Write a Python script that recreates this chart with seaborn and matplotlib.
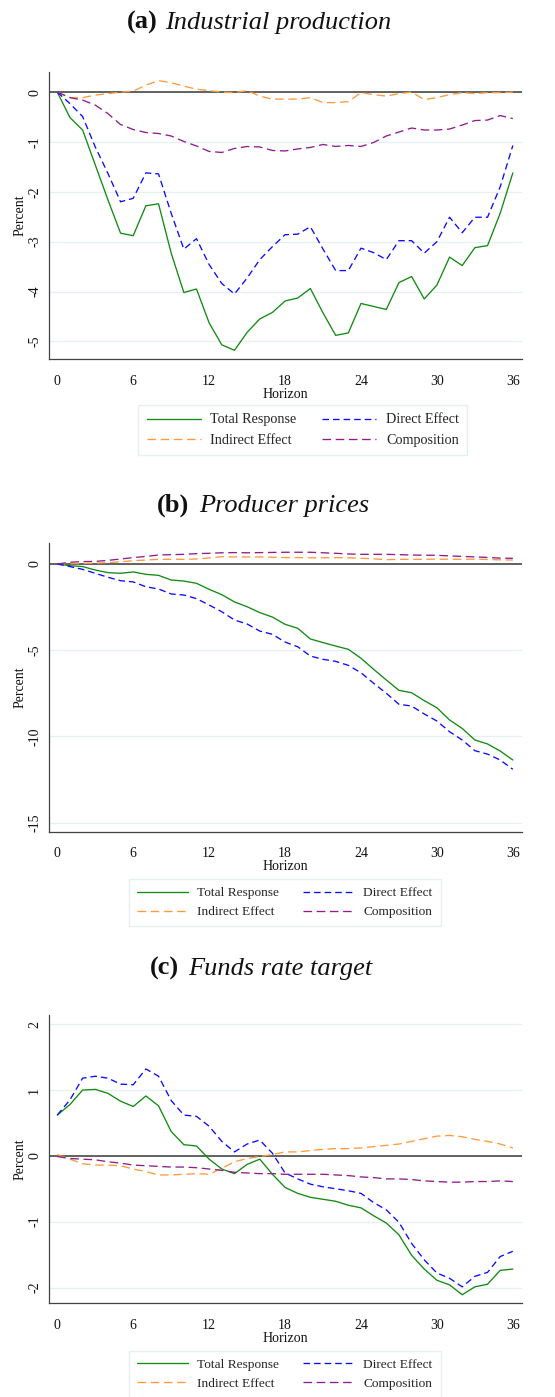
import matplotlib
matplotlib.use("Agg")
import matplotlib.pyplot as plt
import seaborn as sns
import numpy as np
import pandas as pd

sns.set_theme(style="white")
plt.rcParams["font.family"] = ["Liberation Serif", "DejaVu Serif"]
plt.rcParams["axes.unicode_minus"] = False

horizon = list(range(37))

# (a) Industrial production
ip_total = [0, -0.51, -0.76, -1.46, -2.16, -2.83, -2.88, -2.28, -2.24, -3.23, -4.02,
            -3.95, -4.63, -5.07, -5.18, -4.82, -4.55, -4.42, -4.19, -4.13, -3.94,
            -4.43, -4.88, -4.83, -4.24, -4.30, -4.36, -3.82, -3.70, -4.15, -3.87,
            -3.31, -3.48, -3.12, -3.08, -2.43, -1.62]
ip_direct = [0, -0.23, -0.49, -1.10, -1.63, -2.20, -2.13, -1.62, -1.64, -2.43, -3.15,
             -2.94, -3.46, -3.84, -4.05, -3.73, -3.36, -3.10, -2.86, -2.85, -2.70,
             -3.15, -3.58, -3.58, -3.13, -3.22, -3.36, -2.98, -2.98, -3.23, -3.00,
             -2.51, -2.82, -2.51, -2.51, -1.90, -1.07]
ip_indirect = [0, -0.11, -0.11, -0.06, -0.03, 0.00, 0.02, 0.14, 0.23, 0.19, 0.12,
               0.06, 0.03, 0.00, -0.01, 0.03, -0.08, -0.14, -0.14, -0.14, -0.11,
               -0.21, -0.21, -0.19, -0.01, -0.05, -0.08, -0.03, 0.00, -0.15, -0.11,
               -0.05, -0.01, -0.03, -0.01, -0.01, 0.00]
ip_comp = [0, -0.11, -0.16, -0.26, -0.43, -0.65, -0.75, -0.81, -0.83, -0.88, -0.99,
           -1.08, -1.19, -1.21, -1.13, -1.09, -1.10, -1.17, -1.18, -1.14, -1.11,
           -1.05, -1.09, -1.07, -1.09, -1.01, -0.88, -0.80, -0.72, -0.76, -0.76,
           -0.74, -0.66, -0.57, -0.56, -0.47, -0.53]

# (b) Producer prices
pp_total = [0, -0.10, -0.15, -0.35, -0.50, -0.54, -0.46, -0.60, -0.66, -0.93, -0.99,
            -1.12, -1.47, -1.78, -2.20, -2.48, -2.82, -3.08, -3.50, -3.73, -4.35,
            -4.56, -4.76, -4.95, -5.47, -6.11, -6.73, -7.33, -7.47, -7.93, -8.34,
            -9.05, -9.54, -10.21, -10.44, -10.85, -11.37]
pp_direct = [0, -0.15, -0.31, -0.54, -0.77, -0.97, -1.04, -1.32, -1.45, -1.74, -1.80,
             -2.01, -2.38, -2.77, -3.25, -3.48, -3.89, -4.08, -4.53, -4.80, -5.34,
             -5.53, -5.65, -5.88, -6.31, -6.92, -7.50, -8.14, -8.24, -8.70, -9.11,
             -9.73, -10.21, -10.83, -11.03, -11.37, -11.91]
pp_indirect = [0, 0.02, 0.03, 0.05, 0.08, 0.13, 0.19, 0.23, 0.27, 0.27, 0.27,
               0.29, 0.35, 0.42, 0.41, 0.41, 0.41, 0.39, 0.37, 0.37, 0.36,
               0.36, 0.37, 0.36, 0.33, 0.30, 0.25, 0.27, 0.27, 0.27, 0.28,
               0.28, 0.27, 0.28, 0.26, 0.24, 0.23]
pp_comp = [0, 0.10, 0.14, 0.15, 0.21, 0.29, 0.37, 0.44, 0.52, 0.54, 0.56,
           0.60, 0.62, 0.65, 0.66, 0.65, 0.66, 0.67, 0.68, 0.68, 0.68,
           0.65, 0.62, 0.58, 0.56, 0.56, 0.56, 0.54, 0.52, 0.51, 0.50,
           0.47, 0.44, 0.41, 0.38, 0.34, 0.33]

# (c) Funds rate target
ff_total = [0.62, 0.78, 1.00, 1.01, 0.95, 0.83, 0.75, 0.91, 0.76, 0.37, 0.17,
            0.15, -0.05, -0.20, -0.27, -0.13, -0.05, -0.28, -0.48, -0.57, -0.63,
            -0.66, -0.69, -0.75, -0.79, -0.91, -1.02, -1.20, -1.51, -1.72, -1.89,
            -1.96, -2.11, -1.99, -1.95, -1.74, -1.72]
ff_direct = [0.62, 0.85, 1.18, 1.21, 1.18, 1.09, 1.08, 1.32, 1.21, 0.84, 0.62,
             0.60, 0.45, 0.22, 0.06, 0.18, 0.24, 0.04, -0.26, -0.35, -0.43,
             -0.47, -0.50, -0.53, -0.57, -0.71, -0.82, -1.01, -1.33, -1.58, -1.78,
             -1.86, -1.99, -1.83, -1.77, -1.53, -1.45]
ff_indirect = [0.02, -0.05, -0.12, -0.14, -0.14, -0.15, -0.20, -0.24, -0.29, -0.29, -0.28,
               -0.27, -0.28, -0.19, -0.09, -0.04, -0.01, 0.02, 0.06, 0.06, 0.08,
               0.10, 0.11, 0.11, 0.12, 0.14, 0.16, 0.18, 0.22, 0.26, 0.30,
               0.31, 0.29, 0.25, 0.22, 0.18, 0.12]
ff_comp = [-0.01, -0.04, -0.05, -0.06, -0.09, -0.11, -0.14, -0.15, -0.16, -0.17, -0.17,
           -0.18, -0.20, -0.22, -0.25, -0.26, -0.27, -0.27, -0.28, -0.28, -0.28,
           -0.28, -0.29, -0.30, -0.32, -0.33, -0.35, -0.35, -0.36, -0.38, -0.39,
           -0.40, -0.40, -0.39, -0.39, -0.38, -0.39]

series_labels = ["Total Response", "Indirect Effect", "Direct Effect", "Composition"]
x_ticks = [0, 6, 12, 18, 24, 30, 36]

panels = [
    dict(tag="(a)", name="Industrial production",
         data=[ip_total, ip_indirect, ip_direct, ip_comp],
         yticks=[0, -1, -2, -3, -4, -5], ylim=(-5.36, 0.41)),
    dict(tag="(b)", name="Producer prices",
         data=[pp_total, pp_indirect, pp_direct, pp_comp],
         yticks=[0, -5, -10, -15], ylim=(-15.53, 1.2)),
    dict(tag="(c)", name="Funds rate target",
         data=[ff_total, ff_indirect, ff_direct, ff_comp],
         yticks=[2, 1, 0, -1, -2], ylim=(-2.24, 2.14)),
]

# line styling per series
styles = [
    dict(color="#138a13", linestyle="-"),
    dict(color="#ff9a3c", linestyle=(0, (6.5, 3.5))),
    dict(color="#0a0aff", linestyle=(0, (5.0, 3.0))),
    dict(color="#8e1d8e", linestyle=(0, (6.5, 3.5))),
]

W, H = 555, 1397
fig = plt.figure(figsize=(W / 100, H / 100), dpi=100)
fig.patch.set_facecolor("white")

# pixel layout of each panel
layout = [
    dict(top=71.7, bottom=359.3, title_y=29, tag_x=126.7, name_x=165.5,
         leg_x=302.8, leg_y=430, leg_fs=10.2),
    dict(top=543.3, bottom=831.7, title_y=512, tag_x=156.7, name_x=199.5,
         leg_x=285, leg_y=902.7, leg_fs=9.6),
    dict(top=1015, bottom=1303.3, title_y=975, tag_x=150, name_x=188.3,
         leg_x=285, leg_y=1374.5, leg_fs=9.6),
]
left_px, right_px = 48.7, 521.7

for p, lay in zip(panels, layout):
    ax = fig.add_axes([left_px / W, 1 - lay["bottom"] / H,
                       (right_px - left_px) / W, (lay["bottom"] - lay["top"]) / H])
    ax.set_facecolor("white")
    for yt in p["yticks"]:
        ax.axhline(yt, color="#e7eff1", lw=0.9, zorder=0)
    ax.axhline(0, color="#3a3a3a", lw=1.1, zorder=1)

    for vals, lab, st in zip(p["data"], series_labels, styles):
        df = pd.DataFrame({"Horizon": horizon, "value": vals})
        sns.lineplot(data=df, x="Horizon", y="value", ax=ax, color=st["color"],
                     linestyle=st["linestyle"], lw=0.95, zorder=3, label=lab)

    ax.set_xlim(-0.68, 36.7)
    ax.set_ylim(*p["ylim"])
    ax.set_xticks(x_ticks)
    ax.set_yticks(p["yticks"])
    ax.set_yticklabels([str(v) for v in p["yticks"]], rotation=90, va="center")
    ax.tick_params(axis="both", direction="out", length=4, width=0.9,
                   color="#444444", labelsize=10, labelcolor="#111111")
    ax.tick_params(axis="y", pad=1.5)
    ax.tick_params(axis="x", pad=7)
    ax.set_xlabel("Horizon", fontsize=10, labelpad=0, color="#111111")
    ax.set_ylabel("Percent", fontsize=10, labelpad=1, color="#111111")
    for side in ["top", "right"]:
        ax.spines[side].set_visible(False)
    for side in ["left", "bottom"]:
        ax.spines[side].set_color("#444444")
        ax.spines[side].set_linewidth(0.9)

    h, l = ax.get_legend_handles_labels()
    ax.get_legend().remove()
    leg = fig.legend(h, l, loc="center", ncol=2,
                     bbox_to_anchor=(lay["leg_x"] / W, 1 - lay["leg_y"] / H),
                     fontsize=lay["leg_fs"], frameon=True, fancybox=False,
                     edgecolor="#e3ecee", handlelength=3.8, handletextpad=0.7,
                     columnspacing=1.8, labelspacing=0.5, borderpad=0.6)
    leg.get_frame().set_linewidth(1.0)

    fig.text(lay["tag_x"] / W, 1 - lay["title_y"] / H, p["tag"], ha="left",
             va="baseline", fontsize=19, fontweight="bold", color="#111111")
    fig.text(lay["name_x"] / W, 1 - lay["title_y"] / H, p["name"], ha="left",
             va="baseline", fontsize=19, fontstyle="italic", color="#111111")

fig.savefig("out.png", dpi=100, facecolor="white")
